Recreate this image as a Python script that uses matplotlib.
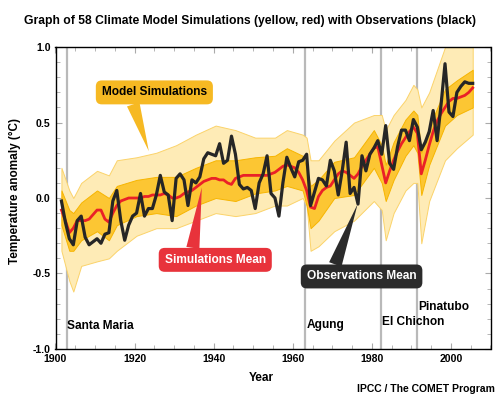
import numpy as np
import matplotlib
matplotlib.use("Agg")
import matplotlib.pyplot as plt
from matplotlib.ticker import MultipleLocator

plt.rcParams['font.family'] = ['Liberation Sans', 'DejaVu Sans']
plt.rcParams['font.weight'] = 'bold'
plt.rcParams['axes.unicode_minus'] = False

# annual values, 1901-2005
years = np.arange(1901, 2006)
obs = [-0.02, -0.16, -0.27, -0.31, -0.15, -0.12, -0.26, -0.31, -0.29, -0.27,
       -0.30, -0.24, -0.23, -0.02, 0.05, -0.15, -0.28, -0.18, -0.12, -0.10,
       0.03, -0.12, -0.07, -0.07, 0.02, 0.15, 0.04, 0.02, -0.15, 0.13,
       0.16, 0.12, -0.05, 0.12, 0.10, 0.14, 0.26, 0.30, 0.29, 0.28,
       0.36, 0.23, 0.25, 0.41, 0.29, 0.09, 0.06, 0.07, 0.05, -0.07,
       0.10, 0.16, 0.28, 0.03, 0.00, -0.12, 0.10, 0.27, 0.20, 0.14,
       0.24, 0.25, 0.29, -0.05, 0.04, 0.13, 0.12, 0.08, 0.25, 0.18,
       0.02, 0.18, 0.37, 0.03, 0.07, -0.04, 0.28, 0.18, 0.29, 0.33,
       0.38, 0.29, 0.48, 0.23, 0.19, 0.34, 0.45, 0.45, 0.38, 0.52,
       0.47, 0.32, 0.37, 0.44, 0.58, 0.38, 0.62, 0.89, 0.57, 0.54,
       0.70, 0.74, 0.77, 0.76, 0.76]
sim_mean = [-0.08, -0.15, -0.23, -0.20, -0.15, -0.15, -0.15, -0.14, -0.11, -0.08,
            -0.08, -0.14, -0.16, -0.10, -0.05, -0.02, -0.01, 0.00, 0.00, 0.00,
            0.00, 0.01, 0.01, 0.02, 0.02, 0.02, 0.03, 0.02, 0.00, 0.00,
            0.01, 0.03, 0.04, 0.05, 0.07, 0.09, 0.11, 0.12, 0.13, 0.13,
            0.12, 0.12, 0.10, 0.09, 0.13, 0.14, 0.15, 0.15, 0.15, 0.15,
            0.15, 0.15, 0.15, 0.16, 0.17, 0.19, 0.21, 0.22, 0.21, 0.20,
            0.17, 0.12, 0.05, -0.06, -0.07, 0.01, 0.05, 0.07, 0.08, 0.12,
            0.16, 0.18, 0.17, 0.15, 0.13, 0.16, 0.21, 0.25, 0.29, 0.33,
            0.34, 0.22, 0.10, 0.18, 0.25, 0.31, 0.36, 0.40, 0.44, 0.47,
            0.43, 0.16, 0.25, 0.35, 0.44, 0.51, 0.56, 0.60, 0.64, 0.66,
            0.66, 0.67, 0.68, 0.70, 0.73]

# spread of the 58 simulations (estimated envelopes)
env_years = [1901, 1903, 1904, 1906, 1910, 1913, 1915, 1920, 1925, 1930,
             1935, 1940, 1945, 1950, 1955, 1958, 1962, 1963, 1964, 1966,
             1970, 1975, 1980, 1982, 1983, 1985, 1988, 1990, 1991, 1992,
             1994, 1998, 2001, 2005]
outer_hi = [0.20, 0.05, 0.00, 0.10, 0.18, 0.15, 0.25, 0.27, 0.30, 0.35,
            0.42, 0.48, 0.45, 0.40, 0.40, 0.45, 0.42, 0.40, 0.25, 0.25,
            0.38, 0.50, 0.55, 0.55, 0.45, 0.55, 0.65, 0.75, 0.72, 0.60,
            0.70, 1.00, 1.00, 1.00]
outer_lo = [-0.35, -0.55, -0.62, -0.45, -0.42, -0.40, -0.35, -0.25, -0.20, -0.20,
            -0.15, -0.10, -0.12, -0.10, -0.05, -0.05, 0.00, -0.05, -0.35, -0.32,
            -0.22, -0.15, -0.02, -0.08, -0.28, -0.10, 0.05, 0.10, 0.10, -0.30,
            -0.02, 0.25, 0.33, 0.42]
inner_hi = [0.05, -0.08, -0.10, -0.03, 0.05, 0.00, 0.08, 0.12, 0.14, 0.14,
            0.20, 0.25, 0.25, 0.27, 0.28, 0.33, 0.28, 0.20, 0.08, 0.12,
            0.24, 0.27, 0.45, 0.35, 0.22, 0.37, 0.52, 0.58, 0.55, 0.30,
            0.47, 0.72, 0.78, 0.85]
inner_lo = [-0.18, -0.35, -0.35, -0.28, -0.22, -0.28, -0.18, -0.12, -0.10, -0.12,
            -0.05, 0.00, -0.02, 0.03, 0.05, 0.08, 0.05, -0.05, -0.20, -0.15,
            0.00, 0.02, 0.20, 0.10, -0.02, 0.12, 0.28, 0.35, 0.30, 0.02,
            0.22, 0.48, 0.55, 0.60]

volcano_names = ['Santa Maria', 'Agung', 'El Chichon', 'Pinatubo']
volcano_years = [1902.8, 1963.2, 1982.3, 1991.5]
volcano_label_y = [-0.85, -0.84, -0.82, -0.72]

fig = plt.figure(figsize=(5.0, 3.96), dpi=100)
ax = fig.add_axes([0.111, 0.119, 0.870, 0.762])

for vy in volcano_years:
    ax.axvline(vy, color='#b9b9b9', lw=1.6, zorder=1)

ex = np.array(env_years) + 0.5
ax.fill_between(ex, outer_lo, outer_hi, color='#feebb6', lw=0.7,
                edgecolor='#fbd36a', zorder=2)
ax.fill_between(ex, inner_lo, inner_hi, color='#fcc633', lw=0.7,
                edgecolor='#f7b500', zorder=3)

x = years + 0.5
ax.plot(x, sim_mean, color='#ea2127', lw=2.0, zorder=4)
ax.plot(x, obs, color='#262626', lw=2.3, zorder=5)

for name, vy, ly in zip(volcano_names, volcano_years, volcano_label_y):
    ax.text(vy + 0.2, ly, name, fontsize=8.6, fontweight='bold',
            ha='left', va='center', zorder=6)

# callout boxes
callouts = [('Model Simulations', (1923.6, 0.31), (1925.0, 0.70), '#f6b923', 'black', 0.28, 0.0),
            ('Simulations Mean', (1937.0, 0.07), (1940.4, -0.41), '#e8333b', 'white', 0.27, 1.0),
            ('Observations Mean', (1976.4, -0.04), (1977.4, -0.52), '#2b2b2b', 'white', 0.24, 1.0)]
for label, tip, pos, col, tcol, rx, ry in callouts:
    ax.annotate(label, xy=tip, xytext=pos, fontsize=8.6, fontweight='bold',
                color=tcol, ha='center', va='center', zorder=7,
                bbox=dict(boxstyle='round,pad=0.5,rounding_size=0.5',
                          fc=col, ec='none'),
                arrowprops=dict(arrowstyle='wedge,tail_width=1.1,shrink_factor=0.5',
                                fc=col, ec='none', relpos=(rx, ry),
                                shrinkA=0, shrinkB=0))

ax.set_xlim(1900, 2010)
ax.set_ylim(-1.0, 1.0)
ax.xaxis.set_major_locator(MultipleLocator(20))
ax.xaxis.set_minor_locator(MultipleLocator(5))
ax.yaxis.set_major_locator(MultipleLocator(0.5))
ax.yaxis.set_minor_locator(MultipleLocator(0.1))
ax.yaxis.set_major_formatter(matplotlib.ticker.FormatStrFormatter('%.1f'))
ax.tick_params(which='both', direction='in', top=True, right=True,
               labelsize=7.6, colors='#aaaaaa', labelcolor='black')
ax.tick_params(which='major', length=4)
ax.tick_params(which='minor', length=3)
for lab in ax.get_xticklabels() + ax.get_yticklabels():
    lab.set_fontweight('bold')
for sp in ax.spines.values():
    sp.set_linewidth(1.0)

fig.text(0.5, 0.947, 'Graph of 58 Climate Model Simulations (yellow, red) with Observations (black)',
         ha='center', va='center', fontsize=8.7, fontweight='bold')
fig.text(0.03, 0.518, 'Temperature anomaly (\u00b0C)', rotation=90,
         ha='center', va='center', fontsize=8.5, fontweight='bold')
fig.text(0.522, 0.045, 'Year', ha='center', va='center', fontsize=8.6, fontweight='bold')
fig.text(0.99, 0.018, 'IPCC / The COMET Program', ha='right', va='center',
         fontsize=7.5, fontweight='bold')

fig.savefig('out.png', dpi=100)
